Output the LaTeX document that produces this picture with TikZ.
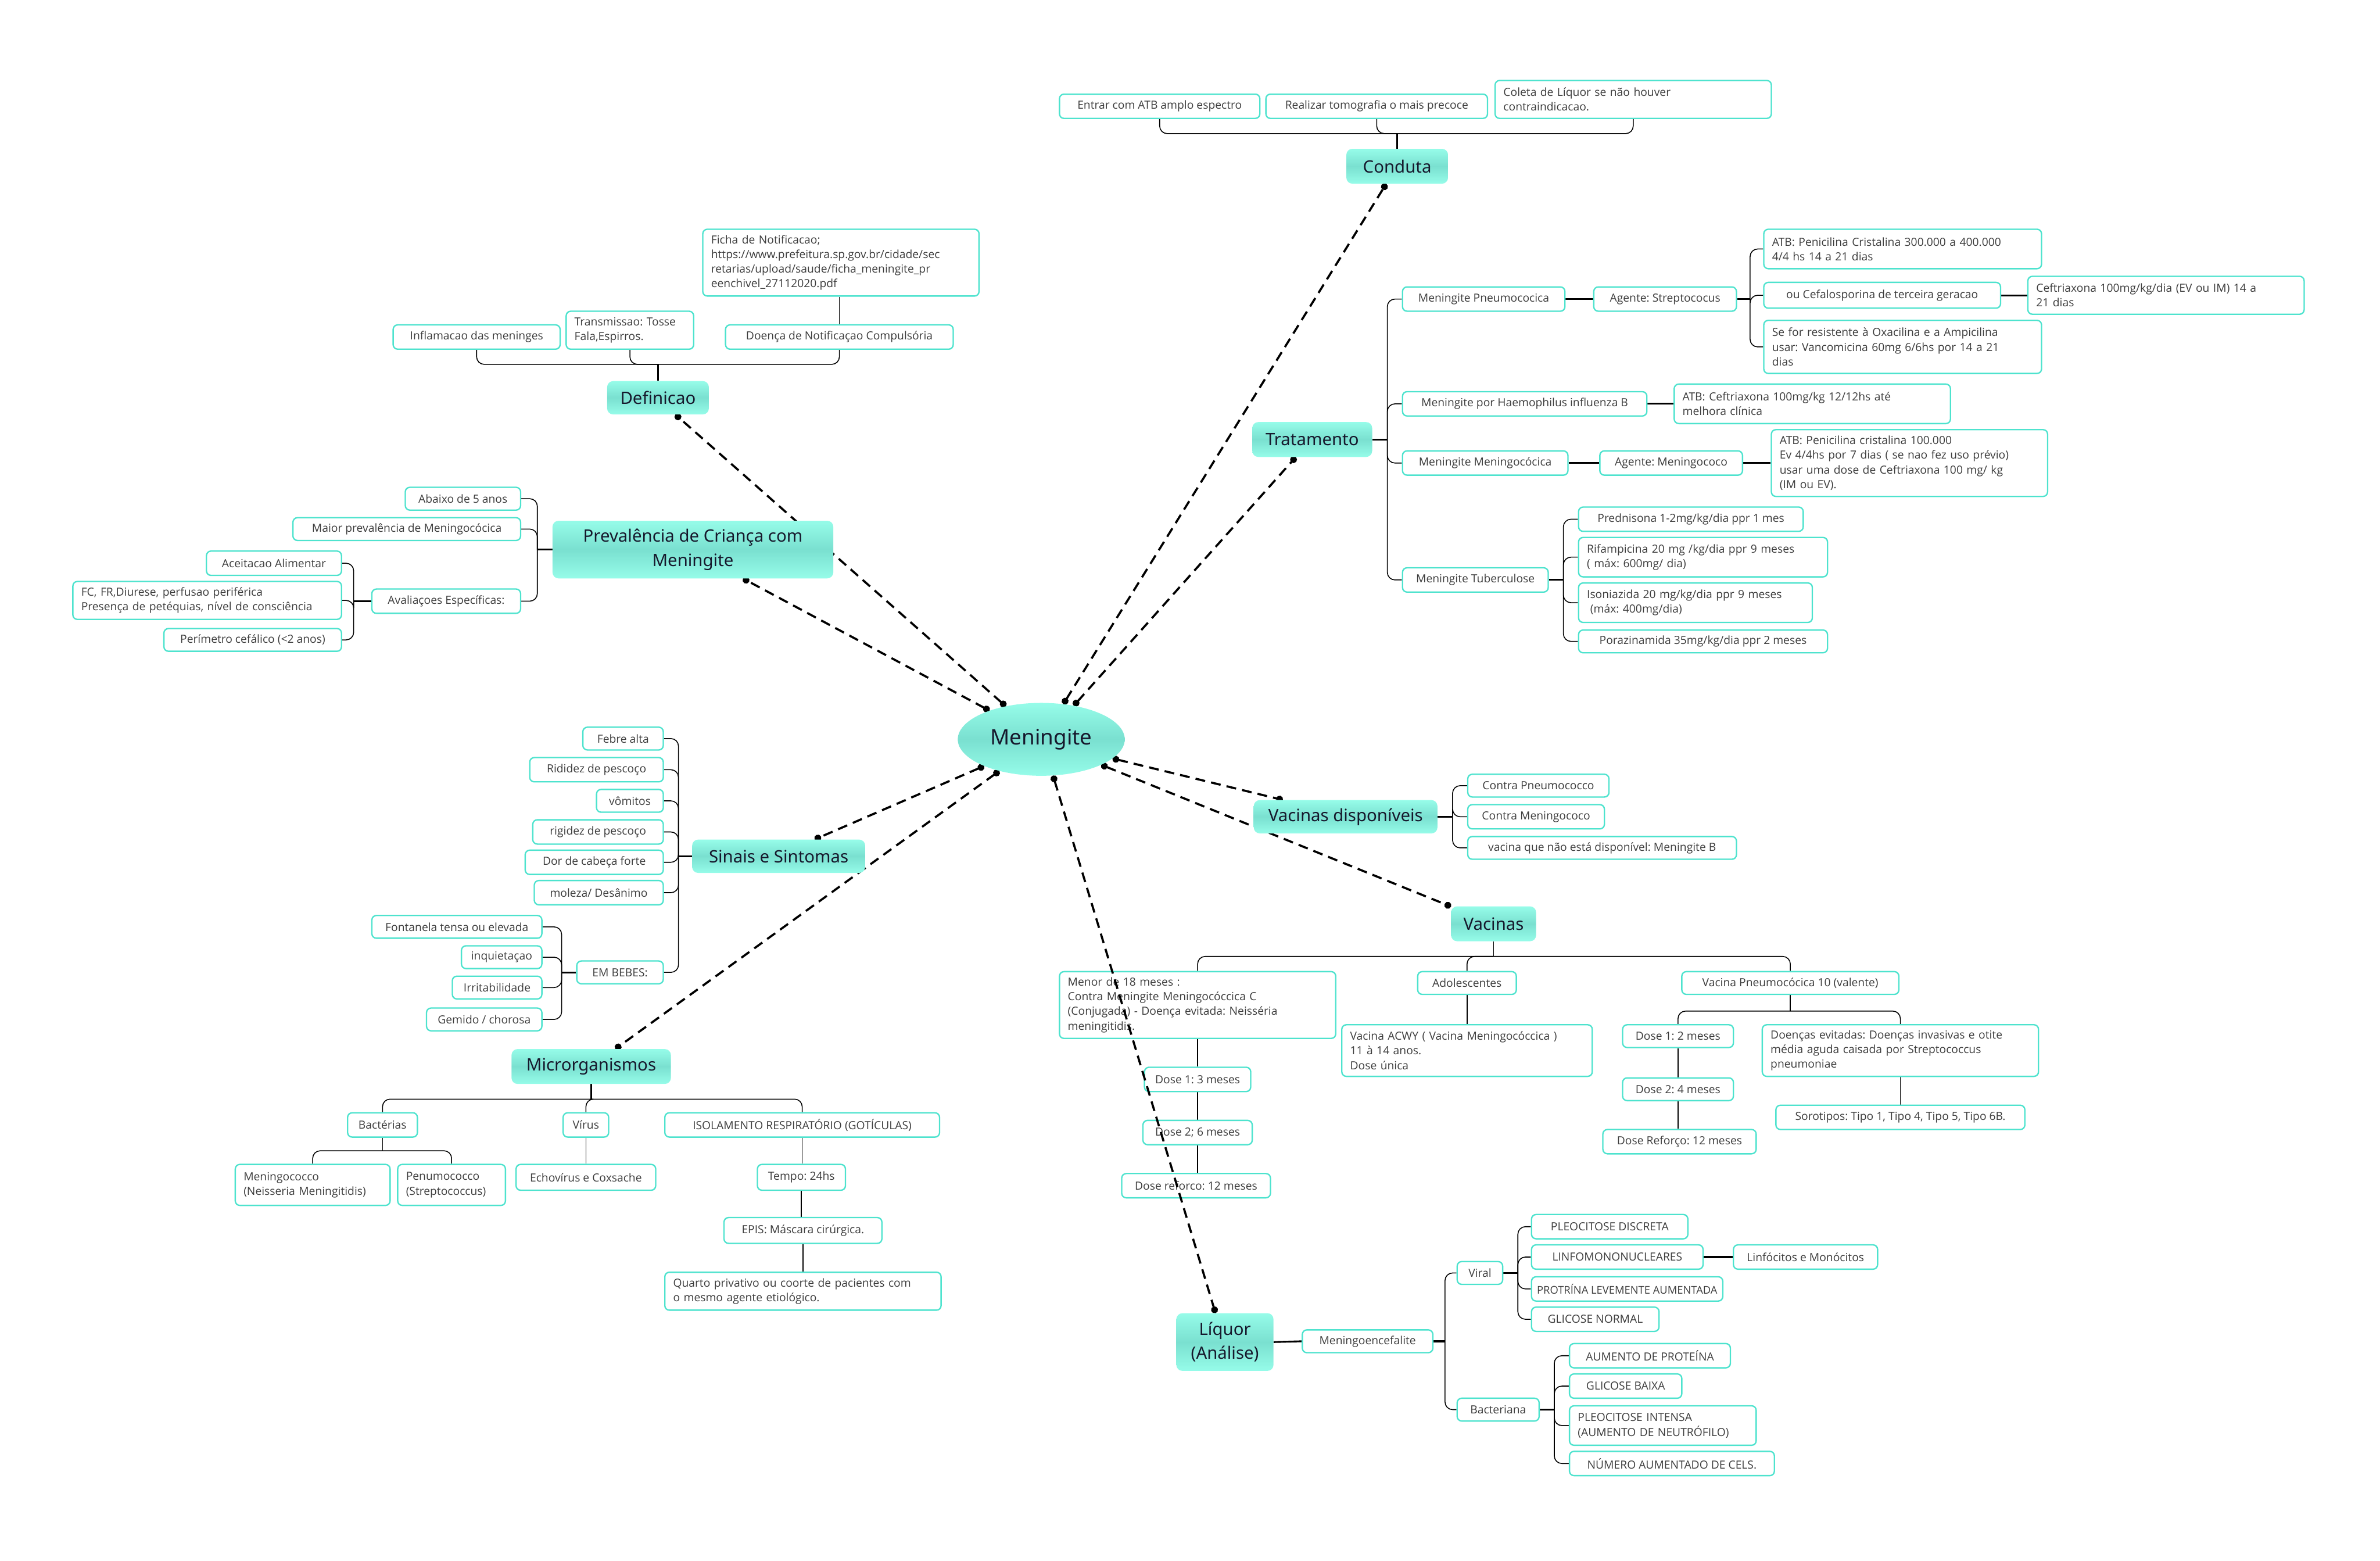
\documentclass[tikz,border=0pt]{standalone}
\usepackage{fontspec}
\setmainfont{Open Sans}
\newfontfamily\topicfont{Noto Sans}
\frenchspacing
\usetikzlibrary{shapes.geometric,arrows.meta}
\definecolor{tealb}{RGB}{78,227,206}
\definecolor{tl}{RGB}{150,252,233}
\definecolor{tm}{RGB}{122,224,208}
\definecolor{leaftxt}{RGB}{60,60,60}
\definecolor{toptxt}{RGB}{22,24,44}
\pgfdeclarelayer{bg}\pgfdeclarelayer{dash}\pgfdeclarelayer{top}
\pgfsetlayers{bg,main,dash,top}
\tikzset{
  leaf/.style={draw=tealb, line width=0.9mm, fill=white, rounded corners=3mm, inner sep=0pt,
    align=center, text=leaftxt, font=\frenchspacing\fontsize{21}{27.5}\selectfont},
  topic/.style={rounded corners=4mm, top color=tl, bottom color=tl, middle color=tm, inner sep=0pt,
    align=center, text=toptxt, font=\topicfont\fontsize{32}{45}\selectfont},
  conn/.style={line width=0.6mm, black, rounded corners=5mm},
  stub/.style={line width=1.2mm, black},
  dlink/.style={line width=1.4mm, black, dash pattern=on 6.5mm off 4mm, {Circle[length=4.5mm]}-{Circle[length=4.5mm]}},
}
\newcommand\lf[6]{\node[leaf,minimum width={(#4-#2)*1mm},minimum height={(#5-#3)*1mm}] (#1) at ({(#2+#4)/2},{(#3+#5)/2}) {#6};}
\newcommand\lfm[6]{\pgfmathsetmacro\tw{(#4-#2-11)*2.84528}%
  \node[leaf,align=left,text width=\tw pt,minimum width={(#4-#2)*1mm},minimum height={(#5-#3)*1mm}] (#1) at ({(#2+#4)/2},{(#3+#5)/2}) {#6};}
\newcommand\tp[6]{\node[topic,minimum width={(#4-#2)*1mm},minimum height={(#5-#3)*1mm}] (#1) at ({(#2+#4)/2},{(#3+#5)/2}) {#6};}
\begin{document}
\begin{tikzpicture}[x=1mm,y=-1mm]
\useasboundingbox (0,0) rectangle (1568,1028);
\begin{pgfonlayer}{bg}
\fill[white] (0,0) rectangle (1568,1028);
\end{pgfonlayer}

% ---------- topics (top layer) ----------
\begin{pgfonlayer}{top}
\node[ellipse, top color=tl, bottom color=tl, middle color=tm, minimum width=110mm, minimum height=48mm,
  inner sep=0pt, text=toptxt, font=\topicfont\fontsize{40}{48}\selectfont] (men) at (686,487) {Meningite};
\tp{conduta}{887}{98}{954}{121}{Conduta}
\tp{def}{400}{251}{467}{273}{Definicao}
\tp{prev}{364}{343}{549}{381}{Prevalência de Criança com\\Meningite}
\tp{sin}{456}{553}{570}{575}{Sinais e Sintomas}
\tp{mic}{337}{691}{442}{714}{Microrganismos}
\tp{trat}{825}{278}{904}{301}{Tratamento}
\tp{vd}{826}{527}{947}{549}{Vacinas disponíveis}
\tp{vac}{956}{597}{1012}{620}{Vacinas}
\tp{liq}{775}{865}{839}{903}{Líquor\\(Análise)}
\end{pgfonlayer}

% ---------- leaves ----------
% Conduta
\lf{c1}{698}{62}{830}{78}{Entrar com ATB amplo espectro}
\lf{c2}{834}{62}{980}{78}{Realizar tomografia o mais precoce}
\lfm{c3}{985}{53}{1167}{78}{Coleta de Líquor se não houver\\contraindicacao.}
% Definicao
\lf{d1}{259}{214}{369}{230}{Inflamacao das meninges}
\lfm{d2}{373}{205}{457}{230}{Transmissao: Tosse\\Fala,Espirros.}
\lf{d3}{478}{214}{628}{230}{Doença de Notificaçao Compulsória}
\lfm{d4}{463}{151}{645}{195}{Ficha de Notificacao;\\https://www.prefeitura.sp.gov.br/cidade/sec\\retarias/upload/saude/ficha\_meningite\_pr\\eenchivel\_27112020.pdf}
% Prevalencia
\lf{p1}{267}{321}{343}{336}{Abaixo de 5 anos}
\lf{p2}{193}{341}{343}{356}{Maior prevalência de Meningocócica}
\lf{p3}{245}{388}{343}{404}{Avaliaçoes Específicas:}
\lf{p31}{136}{363}{225}{379}{Aceitacao Alimentar}
\lfm{p32}{48}{383}{225}{408}{FC, FR,Diurese, perfusao periférica\\Presença de petéquias, nível de consciência}
\lf{p33}{108}{414}{225}{429}{Perímetro cefálico (<2 anos)}
% Sinais
\lf{s1}{384}{479}{437}{494}{Febre alta}
\lf{s2}{349}{499}{437}{515}{Rididez de pescoço}
\lf{s3}{393}{520}{437}{535}{vômitos}
\lf{s4}{351}{540}{437}{556}{rigidez de pescoço}
\lf{s5}{346}{560}{437}{576}{Dor de cabeça forte}
\lf{s6}{352}{580}{437}{596}{moleza/ Desânimo}
\lf{s7}{380}{633}{437}{648}{EM BEBES:}
\lf{s71}{245}{603}{357}{618}{Fontanela tensa ou elevada}
\lf{s72}{304}{623}{357}{638}{inquietaçao}
\lf{s73}{298}{643}{357}{658}{Irritabilidade}
\lf{s74}{281}{664}{357}{679}{Gemido / chorosa}
% Microrganismos
\lf{m1}{229}{733}{275}{749}{Bactérias}
\lf{m2}{371}{733}{401}{749}{Vírus}
\lf{m3}{438}{733}{619}{749}{ISOLAMENTO RESPIRATÓRIO (GOTÍCULAS)}
\lfm{m11}{155}{767}{257}{794}{Meningococco\\(Neisseria Meningitidis)}
\lfm{m12}{262}{767}{333}{794}{Penumococco\\(Streptococcus)}
\lf{m21}{340}{767}{432}{784}{Echovírus e Coxsache}
\lf{m31}{499}{767}{557}{784}{Tempo: 24hs}
\lf{m32}{477}{802}{581}{819}{EPIS: Máscara cirúrgica.}
\lfm{m33}{438}{838}{620}{863}{Quarto privativo ou coorte de pacientes com\\o mesmo agente etiológico.}
% Tratamento
\lf{t1}{924}{189}{1031}{205}{Meningite Pneumococica}
\lf{t2}{924}{258}{1085}{274}{Meningite por Haemophilus influenza B}
\lf{t3}{924}{297}{1033}{313}{Meningite Meningocócica}
\lf{t4}{924}{374}{1020}{390}{Meningite Tuberculose}
\lf{t11}{1050}{189}{1144}{205}{Agente: Streptococus}
\lfm{t111}{1162}{151}{1345}{177}{ATB: Penicilina Cristalina 300.000 a 400.000\\4/4 hs 14 a 21 dias}
\lf{t112}{1162}{186}{1318}{203}{ou Cefalosporina de terceira geracao}
\lfm{t113}{1162}{211}{1345}{246}{Se for resistente à Oxacilina e a Ampicilina\\usar: Vancomicina 60mg 6/6hs por 14 a 21\\dias}
\lfm{t1121}{1336}{182}{1518}{207}{Ceftriaxona 100mg/kg/dia (EV ou IM) 14 a\\21 dias}
\lfm{t21}{1103}{253}{1285}{279}{ATB: Ceftriaxona 100mg/kg 12/12hs até\\melhora clínica}
\lf{t31}{1054}{297}{1148}{313}{Agente: Meningococo}
\lfm{t311}{1167}{283}{1349}{327}{ATB: Penicilina cristalina 100.000\\Ev 4/4hs por 7 dias ( se nao fez uso prévio)\\usar uma dose de Ceftriaxona 100 mg/ kg\\(IM ou EV).}
\lf{t41}{1040}{334}{1188}{350}{Prednisona 1-2mg/kg/dia ppr 1 mes}
\lfm{t42}{1040}{354}{1204}{380}{Rifampicina 20 mg /kg/dia ppr 9 meses\\( máx: 600mg/ dia)}
\lfm{t43}{1040}{384}{1194}{410}{Isoniazida 20 mg/kg/dia ppr 9 meses\\\hspace*{0.3em}(máx: 400mg/dia)}
\lf{t44}{1040}{415}{1204}{430}{Porazinamida 35mg/kg/dia ppr 2 meses}
% Vacinas disponiveis
\lf{v1}{967}{510}{1060}{525}{Contra Pneumococco}
\lf{v2}{967}{530}{1057}{546}{Contra Meningococo}
\lf{v3}{967}{551}{1144}{566}{vacina que não está disponível: Meningite B}
% Vacinas
\lfm{w1}{698}{640}{880}{684}{Menor de 18 meses :\\Contra Meningite Meningocóccica C\\(Conjugada) - Doença evitada: Neisséria\\meningitidis.}
\lf{w2}{934}{640}{999}{655}{Adolescentes}
\lf{w3}{1108}{640}{1251}{655}{Vacina Pneumocócica 10 (valente)}
\lf{w11}{754}{703}{824}{719}{Dose 1: 3 meses}
\lf{w12}{753}{738}{825}{754}{Dose 2; 6 meses}
\lf{w13}{739}{773}{837}{789}{Dose reforco: 12 meses}
\lfm{w21}{884}{675}{1049}{709}{Vacina ACWY ( Vacina Meningocóccica )\\11 à 14 anos.\\Dose única}
\lf{w31}{1069}{675}{1142}{690}{Dose 1: 2 meses}
\lfm{w32}{1161}{675}{1343}{709}{Doenças evitadas: Doenças invasivas e otite\\média aguda caisada por Streptococcus\\pneumoniae}
\lf{w311}{1069}{710}{1142}{725}{Dose 2: 4 meses}
\lf{w312}{1056}{744}{1157}{760}{Dose Reforço: 12 meses}
\lf{w321}{1170}{728}{1334}{744}{Sorotipos: Tipo 1, Tipo 4, Tipo 5, Tipo 6B.}
% Liquor
\lf{l1}{858}{876}{944}{891}{Meningoencefalite}
\lf{l11}{960}{831}{990}{846}{Viral}
\lf{l12}{960}{921}{1014}{936}{Bacteriana}
\lf{l111}{1009}{800}{1112}{816}{PLEOCITOSE DISCRETA}
\lf{l112}{1009}{820}{1122}{836}{LINFOMONONUCLEARES}
\lf{l113}{1009}{841}{1135}{857}{\fontsize{20}{25}\selectfont PROTRÍNA LEVEMENTE AUMENTADA}
\lf{l114}{1009}{861}{1093}{877}{GLICOSE NORMAL}
\lf{l1121}{1142}{820}{1237}{836}{Linfócitos e Monócitos}
\lf{l121}{1034}{885}{1140}{901}{AUMENTO DE PROTEÍNA}
\lf{l122}{1034}{905}{1108}{921}{GLICOSE BAIXA}
\lfm{l123}{1034}{926}{1157}{952}{PLEOCITOSE INTENSA\\(AUMENTO DE NEUTRÓFILO)}
\lf{l124}{1034}{956}{1169}{972}{NÚMERO AUMENTADO DE CELS.}

% ---------- solid connectors ----------
\begin{pgfonlayer}{bg}
% Conduta (children above)
\coordinate (jc) at (920.5,88);
\draw[stub] (conduta.north) -- (jc);
\foreach \c in {c1,c2,c3} \draw[conn] (jc) -| (\c.south);
% Definicao
\coordinate (jd) at (433.5,240);
\draw[stub] (def.north) -- (jd);
\foreach \c in {d1,d2,d3} \draw[conn] (jd) -| (\c.south);
\draw[conn] (d3.north) -- (d3.north |- d4.south);
% Prevalencia (left)
\coordinate (jp) at (354,362);
\draw[stub] (prev.west) -- (jp);
\foreach \c in {p1,p2,p3} \draw[conn] (jp) |- (\c.east);
\coordinate (jp3) at (233,396);
\draw[stub] (p3.west) -- (jp3);
\foreach \c in {p31,p32,p33} \draw[conn] (jp3) |- (\c.east);
% Sinais (left)
\coordinate (js) at (447,564);
\draw[stub] (sin.west) -- (js);
\foreach \c in {s1,s2,s3,s4,s5,s6,s7} \draw[conn] (js) |- (\c.east);
\coordinate (js7) at (370,640.5);
\draw[stub] (s7.west) -- (js7);
\foreach \c in {s71,s72,s73,s74} \draw[conn] (js7) |- (\c.east);
% Microrganismos (below)
\coordinate (jm) at (389.5,724);
\draw[stub] (mic.south) -- (jm);
\foreach \c in {m1,m2,m3} \draw[conn] (jm) -| (\c.north);
\coordinate (jm1) at (252,758);
\draw[conn] (m1.south) -- (jm1);
\foreach \c in {m11,m12} \draw[conn] (jm1) -| (\c.north);
\draw[conn] (m2.south) -- (m2.south |- m21.north);
\draw[conn] (m3.south) -- (m3.south |- m31.north);
\draw[conn] (m31.south) -- (m31.south |- m32.north);
\draw[conn] (m32.south) -- (m32.south |- m33.north);
% Tratamento (right)
\coordinate (jt) at (914,289.5);
\draw[stub] (trat.east) -- (jt);
\foreach \c in {t1,t2,t3,t4} \draw[conn] (jt) |- (\c.west);
\draw[stub] (t1.east) -- (t11.west);
\coordinate (jt11) at (1153,197);
\draw[stub] (t11.east) -- (jt11);
\foreach \c in {t111,t112,t113} \draw[conn] (jt11) |- (\c.west);
\draw[stub] (t112.east) -- (t1121.west);
\draw[stub] (t2.east) -- (t21.west);
\draw[stub] (t3.east) -- (t31.west);
\draw[stub] (t31.east) -- (t311.west);
\coordinate (jt4) at (1030,382);
\draw[stub] (t4.east) -- (jt4);
\foreach \c in {t41,t42,t43,t44} \draw[conn] (jt4) |- (\c.west);
% Vacinas disponiveis
\coordinate (jv) at (957,538);
\draw[stub] (vd.east) -- (jv);
\foreach \c in {v1,v2,v3} \draw[conn] (jv) |- (\c.west);
% Vacinas (below)
\coordinate (jw) at (984,630);
\draw[conn] (vac.south) -- (jw);
\foreach \c in {w1,w2,w3} \draw[conn] (jw) -| (\c.north);
\draw[conn] (w1.south) -- (w1.south |- w11.north);
\draw[conn] (w11.south) -- (w11.south |- w12.north);
\draw[conn] (w12.south) -- (w12.south |- w13.north);
\draw[conn] (w2.south) -- (w2.south |- w21.north);
\coordinate (jw3) at (1179.5,666);
\draw[conn] (w3.south) -- (jw3);
\foreach \c in {w31,w32} \draw[conn] (jw3) -| (\c.north);
\draw[conn] (w31.south) -- (w31.south |- w311.north);
\draw[conn] (w311.south) -- (w311.south |- w312.north);
\draw[conn] (w32.south) -- (w32.south |- w321.north);
% Liquor
\draw[stub] (liq.east) -- (l1.west);
\coordinate (jl) at (952,883.5);
\draw[stub] (l1.east) -- (jl);
\foreach \c in {l11,l12} \draw[conn] (jl) |- (\c.west);
\coordinate (jl1) at (1000,838.5);
\draw[stub] (l11.east) -- (jl1);
\foreach \c in {l111,l112,l113,l114} \draw[conn] (jl1) |- (\c.west);
\draw[stub] (l112.east) -- (l1121.west);
\coordinate (jl2) at (1024,928.5);
\draw[stub] (l12.east) -- (jl2);
\foreach \c in {l121,l122,l123,l124} \draw[conn] (jl2) |- (\c.west);
\end{pgfonlayer}

% ---------- dashed links ----------
\begin{pgfonlayer}{dash}
\draw[dlink] (men.58) -- (conduta.238);
\draw[dlink] (men.46) -- (trat.227);
\draw[dlink] (men.137) -- (def.316);
\draw[dlink] (men.151) -- (prev.330);
\draw[dlink] (men.205) -- (sin.25);
\draw[dlink] (men.217) -- (mic.36);
\draw[dlink] (men.345) -- (vd.165);
\draw[dlink] (men.337) -- (vac.158);
\draw[dlink] (men.288) -- (liq.108);
\end{pgfonlayer}
\end{tikzpicture}
\end{document}
